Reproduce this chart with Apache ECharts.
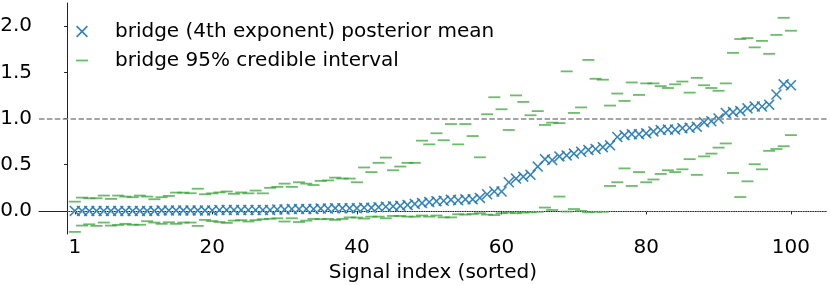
<!DOCTYPE html>
<html><head><meta charset="utf-8">
<script src="https://cdn.jsdelivr.net/npm/echarts@6/dist/echarts.min.js"></script>
<style>html,body{margin:0;padding:0;background:#fff}#c{width:830px;height:285px}</style>
</head><body><div id="c"></div>
<script>
const signalIndex = [1,2,3,4,5,6,7,8,9,10,11,12,13,14,15,16,17,18,19,20,21,22,23,24,25,26,27,28,29,30,31,32,33,34,35,36,37,38,39,40,41,42,43,44,45,46,47,48,49,50,51,52,53,54,55,56,57,58,59,60,61,62,63,64,65,66,67,68,69,70,71,72,73,74,75,76,77,78,79,80,81,82,83,84,85,86,87,88,89,90,91,92,93,94,95,96,97,98,99,100];
const posteriorMean = [0,0,0,0,0,0,0,0,0,0,0,0,0.005,0.005,0.005,0.005,0.005,0.005,0.005,0.005,
  0.01,0.01,0.01,0.01,0.01,0.01,0.01,0.01,0.015,0.015,0.02,0.02,0.02,0.02,0.025,0.025,0.03,0.03,0.03,0.03,
  0.035,0.035,0.04,0.045,0.05,0.055,0.065,0.075,0.085,0.095,0.105,0.11,0.12,0.115,0.125,0.125,0.14,0.18,0.21,0.21,
  0.31,0.35,0.37,0.39,0.48,0.56,0.55,0.59,0.60,0.62,0.64,0.66,0.67,0.69,0.71,0.80,0.82,0.83,0.83,0.84,
  0.86,0.875,0.88,0.88,0.895,0.90,0.91,0.96,0.97,1.0,1.06,1.07,1.08,1.11,1.13,1.13,1.15,1.26,1.37,1.36];
const ciUpper = [0.10,0.144,0.137,0.137,0.166,0.13,0.166,0.155,0.148,0.166,0.155,0.126,0.148,0.162,0.198,0.198,0.191,0.24,0.18,0.19,
  0.20,0.21,0.185,0.20,0.19,0.22,0.19,0.25,0.26,0.295,0.26,0.31,0.295,0.28,0.325,0.33,0.36,0.35,0.35,0.31,
  0.47,0.42,0.52,0.577,0.44,0.48,0.52,0.52,0.76,0.72,0.84,0.765,0.94,0.72,0.94,0.81,0.58,1.046,1.23,1.10,
  0.876,1.25,1.18,1.035,1.08,0.93,0.955,0.95,1.51,1.06,1.12,1.634,1.43,1.42,1.14,1.27,1.19,1.39,1.255,1.38,
  1.38,1.35,1.33,1.37,1.40,1.28,1.44,1.36,1.33,1.30,1.38,1.71,1.86,1.87,1.77,1.84,1.70,1.905,2.09,1.95];
const ciLower = [-0.227,-0.159,-0.145,-0.162,-0.126,-0.159,-0.152,-0.14,-0.15,-0.15,-0.112,-0.126,-0.14,-0.123,-0.14,-0.126,-0.126,-0.162,-0.097,-0.11,
  -0.12,-0.13,-0.105,-0.1,-0.115,-0.1,-0.09,-0.085,-0.08,-0.115,-0.08,-0.12,-0.105,-0.087,-0.09,-0.087,-0.097,-0.087,-0.07,-0.072,
  -0.083,-0.062,-0.062,-0.08,-0.055,-0.055,-0.062,-0.062,-0.05,-0.062,-0.05,-0.07,-0.07,-0.036,-0.04,-0.033,-0.025,-0.04,-0.045,-0.025,
  -0.018,-0.025,-0.018,-0.015,-0.01,0.036,0.01,0.155,-0.007,0.02,0.0,-0.015,-0.01,-0.01,0.27,0.31,0.46,0.27,0.42,0.31,
  0.34,0.40,0.44,0.42,0.45,0.56,0.39,0.59,0.62,0.685,0.73,0.41,0.15,0.32,0.505,0.45,0.65,0.67,0.70,0.82];
const xTicks = [1,20,40,60,80,100];
const yTicks = [0,0.5,1.0,1.5,2.0];
const meanName = 'bridge (4th exponent) posterior mean';
const ciName = 'bridge 95% credible interval';
const xLabel = 'Signal index (sorted)';

const FONT = 'DejaVu Sans';
const FS = 20;
const BLUE = '#1f77b4', GREEN = '#2ca02c';
const X_PATH = 'path://M0,1 L1,0 L5,4 L9,0 L10,1 L6,5 L10,9 L9,10 L5,6 L1,10 L0,9 L4,5 Z';
const DASH_PATH = 'path://M0,0 L12,0 L12,1.8 L0,1.8 Z';

const pairs = arr => signalIndex.map((x, i) => [x, arr[i]]);
const zeroStyle = {color: '#d0d0d0', width: 0.8, type: [1, 1.4]};
const oneStyle = {color: '#888', width: 1.5, type: [5.5, 2.4]};

const chart = echarts.init(document.getElementById('c'), null, {renderer: 'canvas'});
chart.setOption({
  animation: false,
  grid: {left: 39, right: 3.3, top: 3, bottom: 51, containLabel: false, outerBoundsMode: 'none'},
  legend: {
    orient: 'vertical', left: 71, top: 15, itemWidth: 12, itemHeight: 12, itemGap: 6,
    textStyle: {fontFamily: FONT, fontSize: FS, color: '#000', padding: [0, 0, 0, 22], lineHeight: 23},
    data: [
      {name: meanName, icon: X_PATH, itemStyle: {color: BLUE, opacity: 0.9}},
      {name: ciName, icon: DASH_PATH, itemStyle: {color: GREEN, opacity: 0.7}}
    ]
  },
  xAxis: {
    type: 'value', min: -3.95, max: 104.95,
    splitLine: {show: false},
    axisLine: {show: true, lineStyle: {color: '#222', width: 1}},
    axisTick: {show: true, customValues: xTicks, length: 3.5, lineStyle: {color: '#222', width: 1}},
    axisLabel: {customValues: xTicks, fontFamily: FONT, fontSize: FS, color: '#000', margin: 4},
    name: xLabel, nameLocation: 'middle', nameGap: 26,
    nameTextStyle: {fontFamily: FONT, fontSize: FS, color: '#000'}
  },
  yAxis: {
    type: 'value', min: -0.25, max: 2.25,
    splitLine: {show: false},
    axisLine: {show: true, lineStyle: {color: '#222', width: 1}},
    axisTick: {show: true, customValues: yTicks, length: 3.5, lineStyle: {color: '#222', width: 1}},
    axisLabel: {customValues: yTicks, fontFamily: FONT, fontSize: FS, color: '#000', margin: 7,
      formatter: v => v.toFixed(1)}
  },
  series: [
    {
      type: 'line', data: [], silent: true, z: 1,
      markLine: {
        silent: true, symbol: 'none', label: {show: false}, lineStyle: oneStyle,
        data: [[{coord: [-3.95, 1], lineStyle: oneStyle}, {coord: [104.95, 1]}]]
      }
    },
    {
      type: 'line', data: [], silent: true, z: 1,
      markLine: {
        silent: true, symbol: 'none', label: {show: false}, lineStyle: zeroStyle,
        data: [[{coord: [0, 0], lineStyle: zeroStyle}, {coord: [104.95, 0]}]]
      }
    },
    {
      name: ciName, type: 'scatter', z: 2, data: pairs(ciUpper),
      symbol: DASH_PATH, symbolSize: [12, 1.8],
      itemStyle: {color: GREEN, opacity: 0.7}
    },
    {
      name: ciName, type: 'scatter', z: 2, data: pairs(ciLower),
      symbol: DASH_PATH, symbolSize: [12, 1.8],
      itemStyle: {color: GREEN, opacity: 0.7}
    },
    {
      name: meanName, type: 'scatter', z: 3, data: pairs(posteriorMean),
      symbol: X_PATH, symbolSize: 11,
      itemStyle: {color: BLUE, opacity: 0.9}
    }
  ]
});
</script>
</body></html>
